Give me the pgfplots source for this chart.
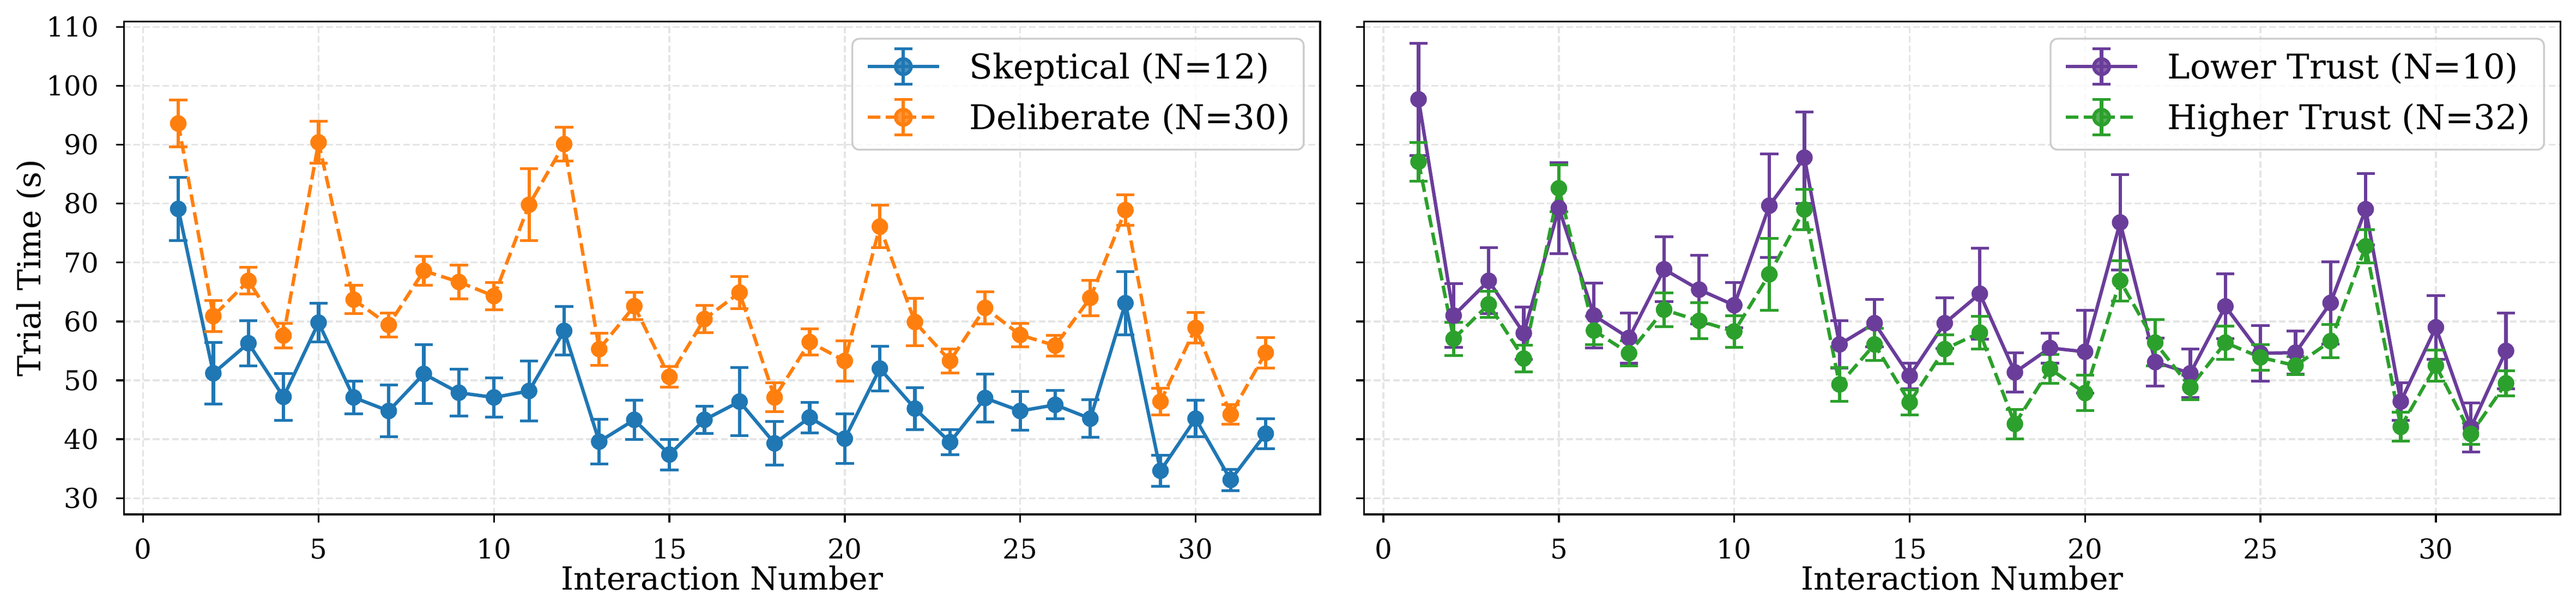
\documentclass[border=0pt]{standalone}
\usepackage{pgfplots}
\pgfplotsset{compat=1.18}
\usepackage{fontspec}
\setmainfont{DejaVu Serif}
\definecolor{cblue}{HTML}{1F77B4}
\definecolor{corange}{HTML}{FF7F0E}
\definecolor{cpurple}{HTML}{6A3D9A}
\definecolor{cgreen}{HTML}{2CA02C}
\definecolor{gridc}{gray}{0.9}
\definecolor{legc}{gray}{0.8}

\pgfplotsset{
  myax/.style={
    scale only axis, width=526.7pt, height=217.1pt,
    xmin=-0.55, xmax=33.55, ymin=27.25, ymax=110.92,
    xtick={0,5,...,30}, ytick={30,40,...,110},
    tick align=outside, major tick length=3.5pt,
    xtick pos=bottom, ytick pos=left,
    every tick/.style={black, line width=0.8pt},
    axis line style={line width=0.8pt},
    grid=major,
    major grid style={dash pattern=on 2.96pt off 1.28pt, line width=0.8pt, gridc},
    /pgf/number format/assume math mode=true,
    ticklabel style={font=\fontsize{12}{14}\selectfont},
    xticklabel style={anchor=north, inner sep=0pt, yshift=-7pt},
    yticklabel style={anchor=east, inner sep=0pt, xshift=-7.4pt},
    xlabel={Interaction Number},
    every axis x label/.style={at={(axis description cs:0.5,0)}, anchor=base, yshift=-33.3pt, font=\fontsize{14}{16}\selectfont},
    legend cell align=left,
    legend style={
      at={(rel axis cs:1,1)}, anchor=north east, xshift=-6.8pt, yshift=-7.2pt,
      draw=legc, line width=0.8pt, rounded corners=3pt,
      fill=white, fill opacity=0.8, text opacity=1, draw opacity=1,
      font=\fontsize{15}{18}\selectfont,
      inner xsep=6pt, inner ysep=5.8pt,
      row sep=7.3pt, column sep=12.6pt,
      nodes={inner sep=0pt, text height=11.9pt, text depth=3.1pt},
    },
    legend image code/.code={
      \draw[##1, mark=none] (0pt,1pt) -- (31.4pt,1pt);
      \draw[##1, solid, mark=none, line width=1.5pt, overlay] (15.7pt,-6.8pt) -- (15.7pt,8.8pt);
      \draw[##1, solid, mark=none, line width=1.2pt, overlay] (11.7pt,-6.8pt) -- (19.7pt,-6.8pt);
      \draw[##1, solid, mark=none, line width=1.2pt, overlay] (11.7pt,8.8pt) -- (19.7pt,8.8pt);
      \fill[##1, solid] (15.7pt,1pt) circle (3.4pt);
    },
  },
  ser/.style={color=#1, line width=1.5pt, line join=round, mark=*, mark size=3.4pt,
    mark options={solid, fill=#1, draw=#1, line width=0.5pt},
    /pgfplots/error bars/y dir=both, /pgfplots/error bars/y explicit,
    /pgfplots/error bars/error bar style={line width=1.5pt, solid},
    /pgfplots/error bars/error mark options={rotate=90, mark size=4pt, line width=1.2pt, solid}},
}

\begin{document}
\begin{tikzpicture}
\path[use as bounding box] (0pt,0pt) rectangle (1134.24pt,270pt);

\begin{axis}[myax, at={(54.55pt,43.44pt)}, anchor=south west,
  ylabel={Trial Time (s)},
  every axis y label/.style={at={(axis description cs:0,0.5)}, xshift=-41pt, rotate=90, anchor=center, font=\fontsize{14}{16}\selectfont},
]
\addplot[ser=cblue, solid] coordinates {
(1,79.1) +- (0,5.4) (2,51.2) +- (0,5.2) (3,56.3) +- (0,3.8) (4,47.2) +- (0,4.0)
(5,59.8) +- (0,3.3) (6,47.1) +- (0,2.8) (7,44.8) +- (0,4.4) (8,51.1) +- (0,5.0)
(9,47.9) +- (0,4.0) (10,47.1) +- (0,3.35) (11,48.2) +- (0,5.1) (12,58.4) +- (0,4.1)
(13,39.6) +- (0,3.8) (14,43.3) +- (0,3.3) (15,37.4) +- (0,2.6) (16,43.3) +- (0,2.3)
(17,46.4) +- (0,5.8) (18,39.3) +- (0,3.7) (19,43.7) +- (0,2.6) (20,40.1) +- (0,4.2)
(21,52.0) +- (0,3.8) (22,45.2) +- (0,3.6) (23,39.5) +- (0,2.1) (24,47.0) +- (0,4.1)
(25,44.8) +- (0,3.3) (26,45.85) +- (0,2.4) (27,43.5) +- (0,3.2) (28,63.1) +- (0,5.35)
(29,34.65) +- (0,2.6) (30,43.5) +- (0,3.1) (31,33.1) +- (0,1.8) (32,40.95) +- (0,2.55)
};
\addlegendentry{Skeptical (N=12)}
\addplot[ser=corange, dash pattern=on 5.55pt off 2.4pt] coordinates {
(1,93.6) +- (0,4.0) (2,60.9) +- (0,2.65) (3,66.9) +- (0,2.25) (4,57.6) +- (0,2.1)
(5,90.4) +- (0,3.55) (6,63.7) +- (0,2.4) (7,59.4) +- (0,2.0) (8,68.6) +- (0,2.45)
(9,66.7) +- (0,2.9) (10,64.3) +- (0,2.3) (11,79.8) +- (0,6.1) (12,90.1) +- (0,2.85)
(13,55.3) +- (0,2.75) (14,62.6) +- (0,2.3) (15,50.6) +- (0,1.75) (16,60.4) +- (0,2.3)
(17,64.9) +- (0,2.7) (18,47.1) +- (0,2.45) (19,56.5) +- (0,2.2) (20,53.3) +- (0,3.45)
(21,76.1) +- (0,3.6) (22,59.9) +- (0,4.0) (23,53.3) +- (0,2.05) (24,62.3) +- (0,2.7)
(25,57.7) +- (0,2.0) (26,55.9) +- (0,1.75) (27,64.0) +- (0,3.0) (28,78.9) +- (0,2.6)
(29,46.4) +- (0,2.25) (30,58.9) +- (0,2.6) (31,44.2) +- (0,1.65) (32,54.7) +- (0,2.6)
};
\addlegendentry{Deliberate (N=30)}
\end{axis}

\begin{axis}[myax, at={(600.65pt,43.44pt)}, anchor=south west, yticklabels={}]
\addplot[ser=cpurple, solid] coordinates {
(1,97.7) +- (0,9.5) (2,61.0) +- (0,5.4) (3,66.9) +- (0,5.6) (4,58.0) +- (0,4.4)
(5,79.25) +- (0,7.75) (6,61.0) +- (0,5.5) (7,57.2) +- (0,4.25) (8,68.85) +- (0,5.5)
(9,65.4) +- (0,5.85) (10,62.75) +- (0,3.85) (11,79.65) +- (0,8.75) (12,87.8) +- (0,7.8)
(13,56.1) +- (0,4.0) (14,59.7) +- (0,4.0) (15,50.75) +- (0,2.2) (16,59.7) +- (0,4.3)
(17,64.7) +- (0,7.7) (18,51.35) +- (0,3.3) (19,55.5) +- (0,2.55) (20,54.85) +- (0,7.0)
(21,76.8) +- (0,8.1) (22,53.1) +- (0,4.1) (23,51.2) +- (0,4.1) (24,62.55) +- (0,5.5)
(25,54.6) +- (0,4.7) (26,54.7) +- (0,3.65) (27,63.15) +- (0,7.0) (28,79.05) +- (0,6.1)
(29,46.4) +- (0,3.15) (30,59.0) +- (0,5.4) (31,42.0) +- (0,4.2) (32,55.0) +- (0,6.4)
};
\addlegendentry{Lower Trust (N=10)}
\addplot[ser=cgreen, dash pattern=on 5.55pt off 2.4pt] coordinates {
(1,87.1) +- (0,3.3) (2,57.05) +- (0,2.8) (3,62.9) +- (0,2.2) (4,53.7) +- (0,2.25)
(5,82.6) +- (0,4.0) (6,58.45) +- (0,2.4) (7,54.6) +- (0,2.1) (8,62.0) +- (0,2.85)
(9,60.1) +- (0,3.05) (10,58.3) +- (0,2.7) (11,68.0) +- (0,6.1) (12,79.0) +- (0,3.45)
(13,49.3) +- (0,2.9) (14,56.1) +- (0,2.75) (15,46.25) +- (0,2.1) (16,55.3) +- (0,2.45)
(17,58.1) +- (0,2.8) (18,42.6) +- (0,2.5) (19,51.95) +- (0,2.45) (20,47.85) +- (0,3.0)
(21,66.9) +- (0,3.4) (22,56.4) +- (0,3.95) (23,48.8) +- (0,2.1) (24,56.4) +- (0,2.8)
(25,53.9) +- (0,2.2) (26,52.5) +- (0,1.55) (27,56.65) +- (0,2.8) (28,72.75) +- (0,2.85)
(29,42.1) +- (0,2.45) (30,52.5) +- (0,2.6) (31,40.9) +- (0,1.8) (32,49.5) +- (0,2.1)
};
\addlegendentry{Higher Trust (N=32)}
\end{axis}
\end{tikzpicture}
\end{document}
